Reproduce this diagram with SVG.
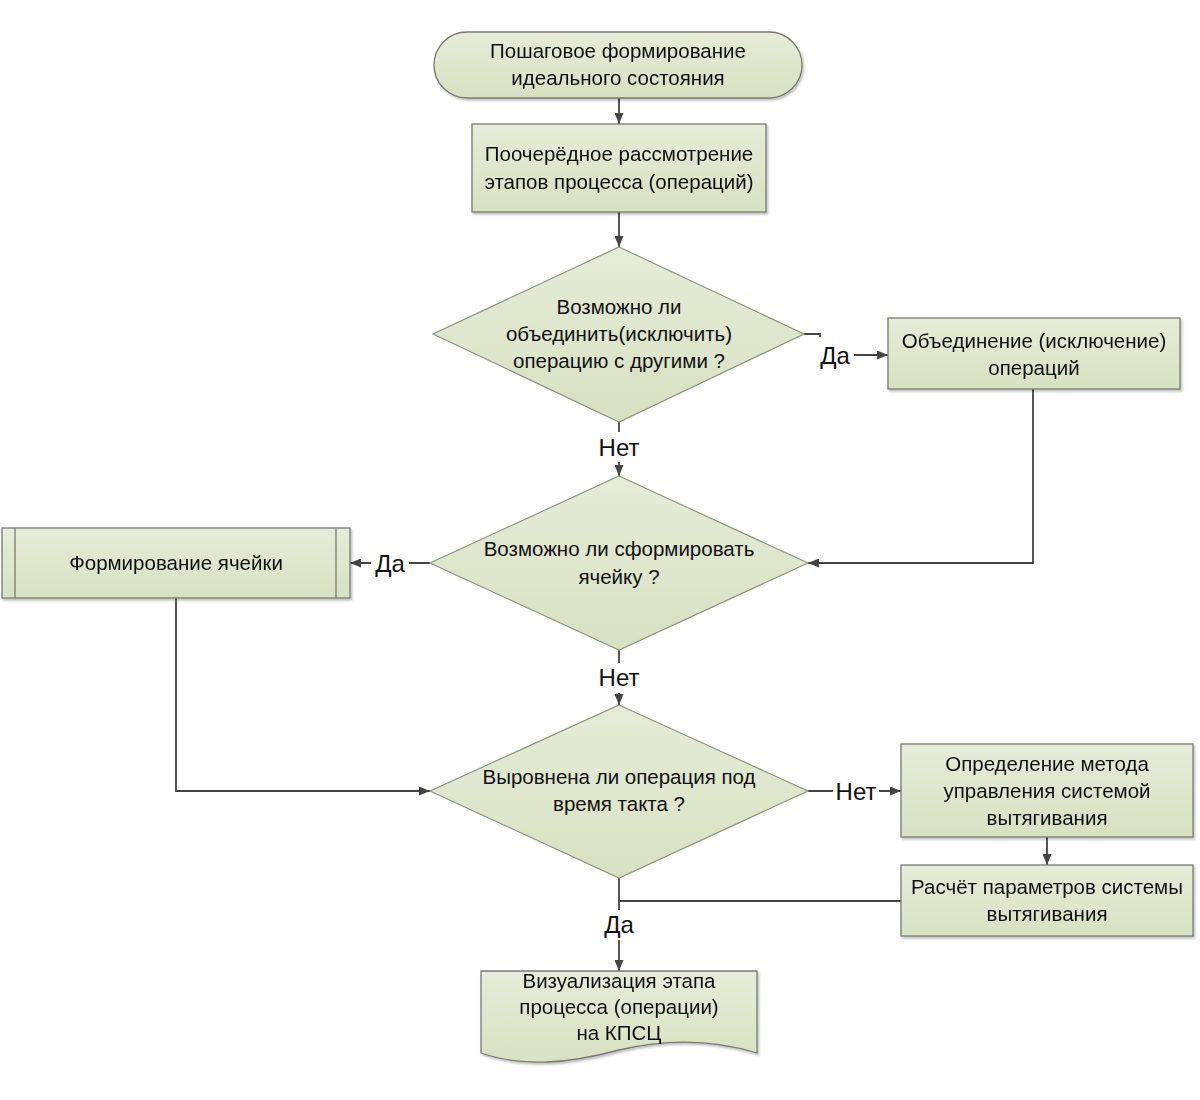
<svg xmlns="http://www.w3.org/2000/svg" width="1200" height="1100" viewBox="0 0 1200 1100">
<style>
.nd{fill:url(#g);stroke:#7a7a72;stroke-width:1.3}
.dm{fill:url(#g);stroke:#8b9878;stroke-width:1.2}
.t{font-family:"Liberation Sans","Noto Sans",sans-serif;font-size:20.5px;fill:#111;text-anchor:middle}
.lb{font-family:"Liberation Sans","Noto Sans",sans-serif;font-size:24px;fill:#111;text-anchor:middle}
.c{fill:none;stroke:#444;stroke-width:1.8}
.a{marker-end:url(#ah)}
.bg{fill:#fff}
</style>
<defs>
<linearGradient id="g" x1="0" y1="0" x2="0" y2="1">
<stop offset="0" stop-color="#e6ecd8"/>
<stop offset="1" stop-color="#d8e1c2"/>
</linearGradient>
<marker id="ah" markerWidth="11" markerHeight="9" refX="11" refY="4.5" orient="auto" markerUnits="userSpaceOnUse">
<path d="M0,0 L11,4.5 L0,9 Z" fill="#444"/>
</marker>
<filter id="sh" x="-5%" y="-5%" width="110%" height="120%">
<feDropShadow dx="1.5" dy="2" stdDeviation="1.2" flood-color="#000" flood-opacity="0.25"/>
</filter>
</defs>
<rect width="1200" height="1100" fill="#fff"/>

<g id="connectors">
<path class="c a" d="M619,98 V124"/>
<path class="c a" d="M619,212 V247"/>
<path class="c" d="M804,334 H820 V355"/>
<path class="c a" d="M820,355 H888"/>
<path class="c a" d="M619,422 V476"/>
<path class="c a" d="M1033,389 V563 H808"/>
<path class="c a" d="M430,563 H350"/>
<path class="c a" d="M619,650 V705"/>
<path class="c a" d="M176,598 V791 H430"/>
<path class="c a" d="M808,791 H901"/>
<path class="c a" d="M1047,837 V865"/>
<path class="c" d="M901,901 H619"/>
<path class="c a" d="M619,878 V971"/>
<rect class="bg" x="816" y="337" width="38" height="33"/>
<text class="lb" x="835" y="364">Да</text>
<rect class="bg" x="597" y="432" width="44" height="30"/>
<text class="lb" x="619" y="456">Нет</text>
<rect class="bg" x="371" y="549" width="38" height="30"/>
<text class="lb" x="390" y="572">Да</text>
<rect class="bg" x="833" y="777" width="46" height="30"/>
<text class="lb" x="856" y="800">Нет</text>
<rect class="bg" x="597" y="663" width="44" height="30"/>
<text class="lb" x="619" y="686">Нет</text>
<rect class="bg" x="600" y="910" width="38" height="30"/>
<text class="lb" x="619" y="933">Да</text>
</g>

<g id="start" filter="url(#sh)">
<rect class="nd" x="434" y="32" width="368" height="66" rx="33" ry="33"/>
<text class="t" x="618" y="58">Пошаговое формирование</text>
<text class="t" x="618" y="85">идеального состояния</text>
</g>

<g id="review" filter="url(#sh)">
<rect class="nd" x="472" y="124" width="294" height="88"/>
<text class="t" x="619" y="161">Поочерёдное рассмотрение</text>
<text class="t" x="619" y="189">этапов процесса (операций)</text>
</g>

<g id="d1">
<path class="dm" d="M619,247 L804,334 L619,422 L433,334 Z"/>
<text class="t" x="619" y="314">Возможно ли</text>
<text class="t" x="619" y="341">объединить(исключить)</text>
<text class="t" x="619" y="368">операцию с другими ?</text>
</g>

<g id="merge" filter="url(#sh)">
<rect class="nd" x="888" y="318" width="292" height="71"/>
<text class="t" x="1034" y="348">Объединение (исключение)</text>
<text class="t" x="1034" y="375">операций</text>
</g>

<g id="d2">
<path class="dm" d="M619,476 L808,563 L619,650 L430,563 Z"/>
<text class="t" x="619" y="556">Возможно ли сформировать</text>
<text class="t" x="619" y="584">ячейку ?</text>
</g>

<g id="cell" filter="url(#sh)">
<rect class="nd" x="2" y="528" width="348" height="70"/>
<line x1="15" y1="528" x2="15" y2="598" stroke="#7a7a72" stroke-width="1.3"/>
<line x1="336" y1="528" x2="336" y2="598" stroke="#7a7a72" stroke-width="1.3"/>
<text class="t" x="176" y="570">Формирование ячейки</text>
</g>

<g id="d3">
<path class="dm" d="M619,705 L808,791 L619,878 L430,791 Z"/>
<text class="t" x="619" y="784">Выровнена ли операция под</text>
<text class="t" x="619" y="811">время такта ?</text>
</g>

<g id="method" filter="url(#sh)">
<rect class="nd" x="901" y="744" width="292" height="93"/>
<text class="t" x="1047" y="771">Определение метода</text>
<text class="t" x="1047" y="798">управления системой</text>
<text class="t" x="1047" y="825">вытягивания</text>
</g>

<g id="calc" filter="url(#sh)">
<rect class="nd" x="901" y="865" width="292" height="71"/>
<text class="t" x="1047" y="894">Расчёт параметров системы</text>
<text class="t" x="1047" y="921">вытягивания</text>
</g>

<g id="visual" filter="url(#sh)">
<path class="nd" d="M481,971 H757 V1053 C715,1040 670,1038 619,1050 C570,1063 525,1068 481,1053 Z"/>
<text class="t" x="619" y="988">Визуализация этапа</text>
<text class="t" x="619" y="1014">процесса (операции)</text>
<text class="t" x="619" y="1040">на КПСЦ</text>
</g>
</svg>
